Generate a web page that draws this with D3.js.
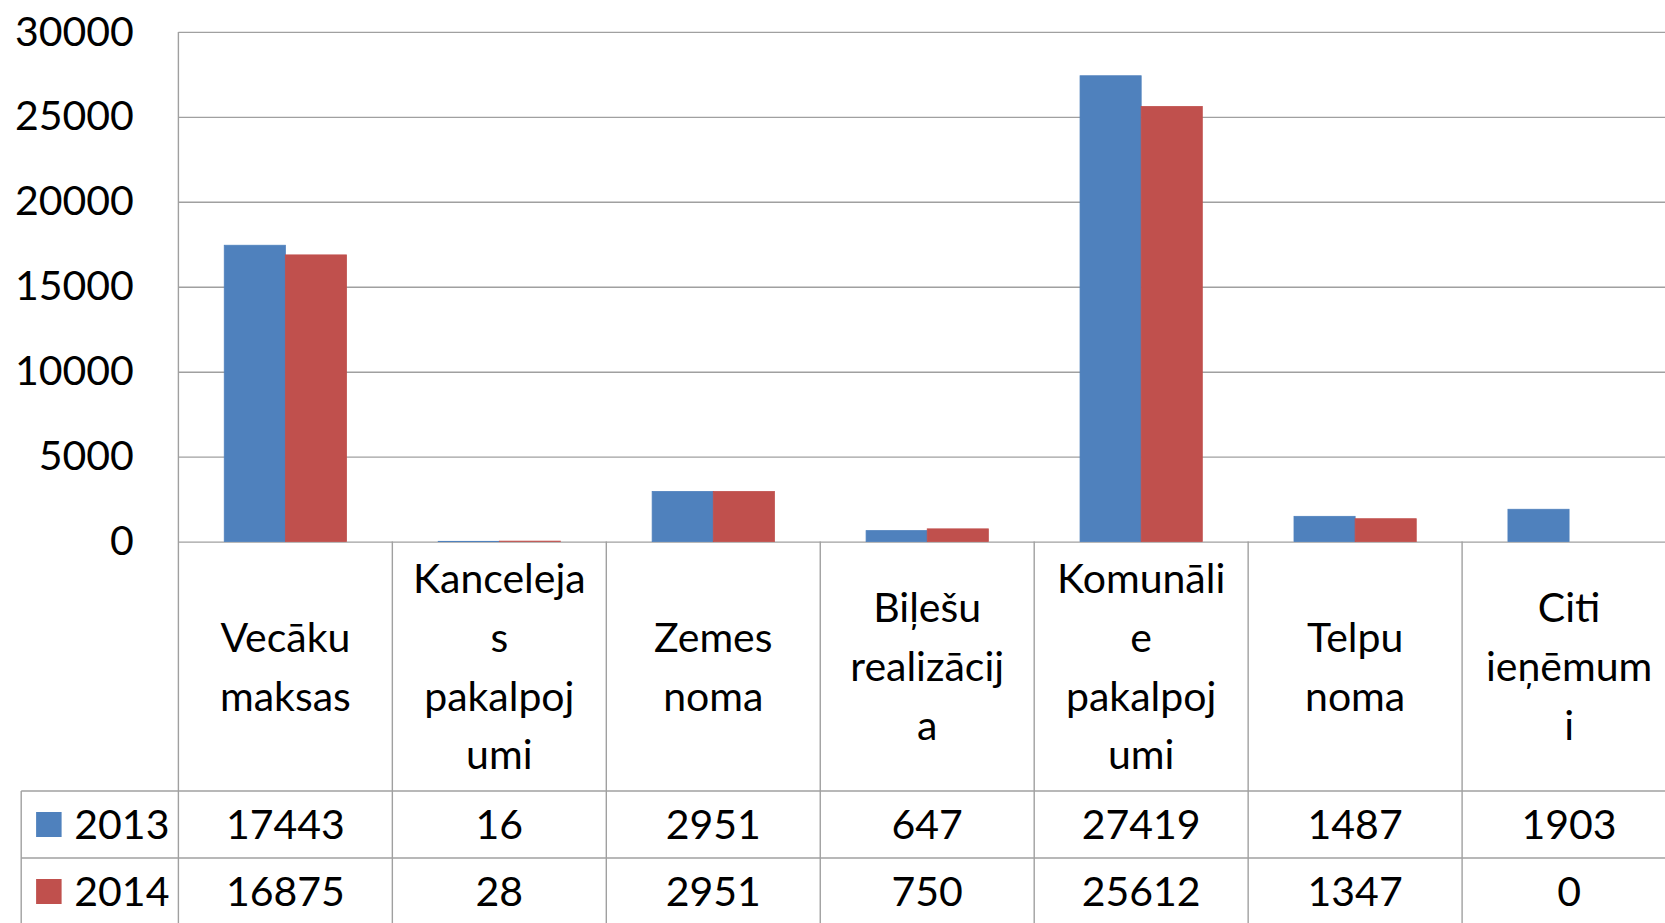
<!DOCTYPE html>
<html>
<head>
<meta charset="utf-8">
<script src="https://cdn.jsdelivr.net/npm/d3@7"></script>
<style>
  html, body { margin: 0; padding: 0; background: #fff; overflow: hidden; }
  svg { display: block; font-family: Lato, "Noto Sans", sans-serif; }
</style>
</head>
<body>
<svg id="chart" width="1665" height="923"></svg>
<script>
// ---- data ----
const categories = ["Vecāku maksas", "Kancelejas pakalpojumi", "Zemes noma", "Biļešu realizācija", "Komunālie pakalpojumi", "Telpu noma", "Citi ieņēmumi"];
const categoryLines = [
  ["Vecāku", "maksas"],
  ["Kanceleja", "s", "pakalpoj", "umi"],
  ["Zemes", "noma"],
  ["Biļešu", "realizācij", "a"],
  ["Komunāli", "e", "pakalpoj", "umi"],
  ["Telpu", "noma"],
  ["Citi", "ieņēmum", "i"]
];
const seriesNames = ["2013", "2014"];
const values2013 = [17443, 16, 2951, 647, 27419, 1487, 1903];
const values2014 = [16875, 28, 2951, 750, 25612, 1347, 0];
const seriesValues = [values2013, values2014];
const seriesColors = ["#4F81BD", "#C0504D"];
const yTicks = [0, 5000, 10000, 15000, 20000, 25000, 30000];

// ---- layout ----
const W = 1665, H = 923;
const plotLeft = 178.4, plotTop = 31.9, plotBottom = 541.6;
const colW = 213.95;
const headerBottom = 791, row1Bottom = 858, row2Bottom = 925;
const legendLeft = 21.2;
const fontSize = 41;
const gridColor = "#A0A0A0";

const svg = d3.select("#chart");

const x = d3.scaleBand().domain(categories)
  .range([plotLeft, plotLeft + colW * categories.length])
  .paddingInner(0).paddingOuter(0);
const xSub = d3.scaleBand().domain(seriesNames)
  .range([0, x.bandwidth()]).paddingInner(0).paddingOuter(0.75);
const y = d3.scaleLinear().domain([0, 30000]).range([plotBottom, plotTop]);

// gridlines
const grid = svg.append("g").attr("transform", `translate(${plotLeft},0)`)
  .call(d3.axisLeft(y).tickValues(yTicks).tickSize(-(W - plotLeft)).tickFormat(""));
grid.select(".domain").remove();
grid.selectAll(".tick line").attr("stroke", gridColor).attr("stroke-width", 1.4);

// y labels
const yAx = svg.append("g").attr("transform", `translate(${plotLeft},0)`)
  .call(d3.axisLeft(y).tickValues(yTicks).tickSize(0).tickPadding(44.6).tickFormat(d3.format("d")));
yAx.select(".domain").remove();
yAx.selectAll(".tick text").attr("font-size", fontSize).attr("fill", "#000")
  .attr("font-family", "Lato, 'Noto Sans', sans-serif");

// bars
const data = [];
categories.forEach((c, i) => seriesNames.forEach((s, j) => data.push({c, s, v: seriesValues[j][i], color: seriesColors[j]})));
svg.append("g").selectAll("rect").data(data.filter(d => d.v > 0)).join("rect")
  .attr("x", d => x(d.c) + xSub(d.s))
  .attr("width", xSub.bandwidth())
  .attr("y", d => y(d.v))
  .attr("height", d => y(0) - y(d.v))
  .attr("fill", d => d.color)
  .attr("stroke", d => d.color)
  .attr("stroke-width", 0.8);

// table lines
const lines = svg.append("g").attr("stroke", gridColor).attr("stroke-width", 1.4);
lines.append("line").attr("x1", plotLeft).attr("x2", plotLeft).attr("y1", plotTop).attr("y2", H);
categories.forEach((c, i) => {
  if (i === 0) return;
  lines.append("line").attr("x1", x(c)).attr("x2", x(c)).attr("y1", plotBottom).attr("y2", H);
});
lines.append("line").attr("x1", legendLeft).attr("x2", legendLeft).attr("y1", headerBottom).attr("y2", H);
[headerBottom, row1Bottom].forEach(yy => {
  lines.append("line").attr("x1", legendLeft).attr("x2", W).attr("y1", yy).attr("y2", yy);
});

// header labels
const headerMid = (plotBottom + headerBottom) / 2;
const lineH = 58.9;
const hdr = svg.append("g").attr("font-size", fontSize).attr("text-anchor", "middle").attr("fill", "#000");
categories.forEach((c, i) => {
  const ls = categoryLines[i];
  ls.forEach((t, k) => {
    hdr.append("text")
      .attr("x", x(c) + x.bandwidth() / 2)
      .attr("y", headerMid + (k - (ls.length - 1) / 2) * lineH)
      .attr("dy", "0.36em")
      .text(t);
  });
});

// value rows
const rowMids = [(headerBottom + row1Bottom) / 2, (row1Bottom + row2Bottom) / 2];
const rows = svg.append("g").attr("font-size", fontSize).attr("fill", "#000");
seriesNames.forEach((s, j) => {
  rows.append("g").selectAll("text").data(seriesValues[j]).join("text")
    .attr("x", (d, i) => x(categories[i]) + x.bandwidth() / 2)
    .attr("y", rowMids[j])
    .attr("dy", "0.36em")
    .attr("text-anchor", "middle")
    .text(d => d);
  rows.append("rect")
    .attr("x", 36.1).attr("y", rowMids[j] - 12.5)
    .attr("width", 25.5).attr("height", 25)
    .attr("fill", seriesColors[j]);
  rows.append("text")
    .attr("x", 74.3).attr("y", rowMids[j]).attr("dy", "0.36em")
    .text(s);
});
</script>
</body>
</html>
